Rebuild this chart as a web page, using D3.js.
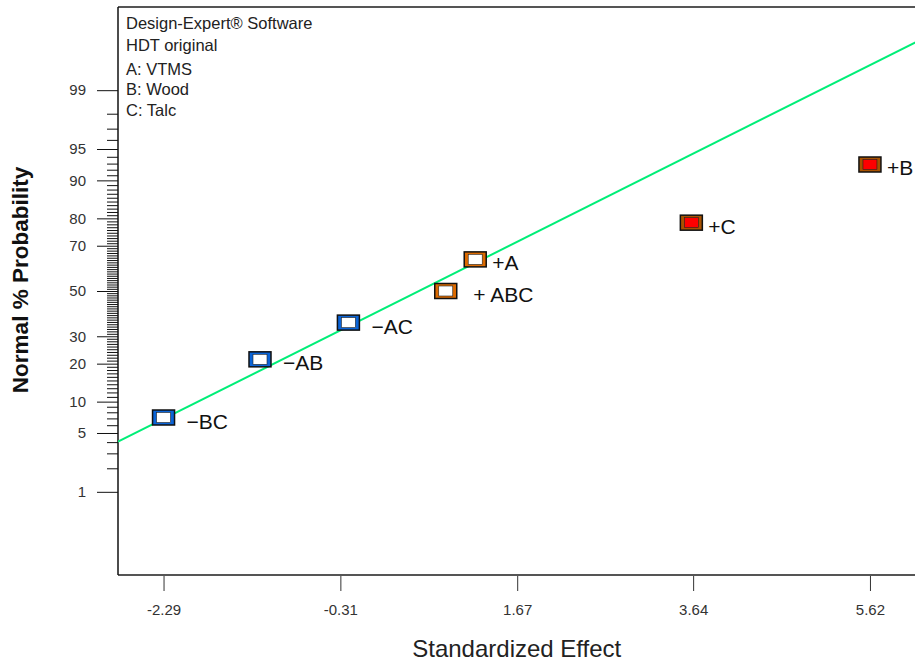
<!DOCTYPE html>
<html lang="en">
<head>
    <meta charset="utf-8">
    <title>Normal Plot - HDT original</title>
    <script src="https://d3js.org/d3.v7.min.js"></script>
    <style type="text/css">
        body {
            margin: 0;
            padding: 0;
            background: #fff;
        }
        svg {
            display: block;
            font-family: 'Liberation Sans', Arial, sans-serif;
        }
        .axis text {
            fill: #333;
        }
        .legend text {
            fill: #222;
            font-size: 16.5px;
        }
        .term-label {
            fill: #111;
            font-size: 21px;
            white-space: pre;
        }
    </style>
</head>

<body>
    <svg></svg>

    <script>
        // Effects
        var terms = ["BC", "AB", "AC", "ABC", "A", "C", "B"];
        var effects = [-2.29, -1.21, -0.22, 0.87, 1.20, 3.62, 5.62];
        var probabilities = [7.14, 21.43, 35.71, 50, 64.29, 78.57, 92.86];
        var significant = [false, false, false, false, false, true, true];
        var labels = ["\u2212BC", "\u2212AB", "\u2212AC", "\u2002+ ABC", "+A", "+C", "+B"];

        // Fitted line through the small effects
        var fitCenter = 0.57;
        var fitSpread = 1.93;

        // Ticks
        var xTicks = [-2.29, -0.31, 1.67, 3.64, 5.62];
        var xTickLabels = ["-2.29", "-0.31", "1.67", "3.64", "5.62"];
        var yTicks = [1, 5, 10, 20, 30, 50, 70, 80, 90, 95, 99];

        var legendLines = ["Design-Expert\u00ae Software", "HDT original", "A: VTMS", "B: Wood", "C: Talc"];

        // Inverse normal (Acklam)
        function probit(p) {
            var a = [-3.969683028665376e+01, 2.209460984245205e+02, -2.759285104469687e+02, 1.383577518672690e+02, -3.066479806614716e+01, 2.506628277459239e+00];
            var b = [-5.447609879822406e+01, 1.615858368580409e+02, -1.556989798598866e+02, 6.680131188771972e+01, -1.328068155288572e+01];
            var c = [-7.784894002430293e-03, -3.223964580411365e-01, -2.400758277161838e+00, -2.549732539343734e+00, 4.374664141464968e+00, 2.938163982698783e+00];
            var d = [7.784695709041462e-03, 3.224671290700398e-01, 2.445134137142996e+00, 3.754408661907416e+00];
            var pl = 0.02425, q, r;
            if (p < pl) {
                q = Math.sqrt(-2 * Math.log(p));
                return (((((c[0] * q + c[1]) * q + c[2]) * q + c[3]) * q + c[4]) * q + c[5]) / ((((d[0] * q + d[1]) * q + d[2]) * q + d[3]) * q + 1);
            }
            if (p > 1 - pl) {
                q = Math.sqrt(-2 * Math.log(1 - p));
                return -(((((c[0] * q + c[1]) * q + c[2]) * q + c[3]) * q + c[4]) * q + c[5]) / ((((d[0] * q + d[1]) * q + d[2]) * q + d[3]) * q + 1);
            }
            q = p - 0.5;
            r = q * q;
            return (((((a[0] * r + a[1]) * r + a[2]) * r + a[3]) * r + a[4]) * r + a[5]) * q / (((((b[0] * r + b[1]) * r + b[2]) * r + b[3]) * r + b[4]) * r + 1);
        }

        var blende = {
                top: 7
                , right: -0.5
                , bottom: 91
                , left: 118
            },
            width = 915 - blende.left - blende.right
            , height = 666 - blende.top - blende.bottom;

        var root = d3.select("svg")
            .attr("width", 915)
            .attr("height", 666);

        var svg = root.append("g")
            .attr("transform", "translate(" + blende.left + "," + blende.top + ")");

        var x = d3.scaleLinear().domain([-2.80, 6.13]).range([0, width]);
        var y = d3.scaleLinear().domain([-3.29, 3.29]).range([height, 0]);

        var datensatz = terms.map(function (t, i) {
            return {
                term: t
                , effect: effects[i]
                , z: probit(probabilities[i] / 100)
                , sig: significant[i]
                , label: labels[i]
            };
        });

        svg.append("clipPath")
            .attr("id", "plotclip")
            .append("rect")
            .attr("width", width)
            .attr("height", height);

        // Minor ticks, every whole percent
        var minor = d3.range(2, 99).filter(function (p) {
            return yTicks.indexOf(p) < 0;
        });
        var yMinor = svg.append("g")
            .attr("class", "y minor")
            .call(d3.axisLeft(y)
                .tickValues(minor.map(function (p) { return probit(p / 100); }))
                .tickSize(11)
                .tickFormat(""));
        yMinor.select(".domain").remove();
        yMinor.selectAll("line").attr("stroke", "#111");

        // Y axis
        var yAxis = svg.append("g")
            .attr("class", "y axis")
            .call(d3.axisLeft(y)
                .tickValues(yTicks.map(function (p) { return probit(p / 100); }))
                .tickSize(21)
                .tickPadding(11)
                .tickFormat(function (d, i) { return yTicks[i]; }));
        yAxis.select(".domain").remove();
        yAxis.selectAll("line").attr("stroke", "#111");
        yAxis.selectAll("text")
            .attr("font-size", 15)
            .attr("font-family", "'Liberation Sans', Arial, sans-serif");

        // X axis
        var xAxis = svg.append("g")
            .attr("class", "x axis")
            .attr("transform", "translate(0," + height + ")")
            .call(d3.axisBottom(x)
                .tickValues(xTicks)
                .tickSize(16)
                .tickPadding(13)
                .tickFormat(function (d, i) { return xTickLabels[i]; }));
        xAxis.select(".domain").remove();
        xAxis.selectAll("line").attr("stroke", "#333");
        xAxis.selectAll("text")
            .attr("font-size", 15)
            .attr("font-family", "'Liberation Sans', Arial, sans-serif");

        // Frame
        svg.append("line")
            .attr("x1", 0).attr("x2", width)
            .attr("y1", 0).attr("y2", 0)
            .attr("stroke", "#555").attr("stroke-width", 2);
        svg.append("line")
            .attr("x1", 0).attr("x2", width)
            .attr("y1", height).attr("y2", height)
            .attr("stroke", "#555").attr("stroke-width", 2);
        svg.append("line")
            .attr("x1", 0).attr("x2", 0)
            .attr("y1", 0).attr("y2", height)
            .attr("stroke", "#111").attr("stroke-width", 1.5);

        // Fit line
        var xd = x.domain();
        svg.append("line")
            .attr("clip-path", "url(#plotclip)")
            .attr("x1", x(xd[0]))
            .attr("y1", y((xd[0] - fitCenter) / fitSpread))
            .attr("x2", x(xd[1]))
            .attr("y2", y((xd[1] - fitCenter) / fitSpread))
            .attr("stroke", "#00ee77")
            .attr("stroke-width", 2);

        // Markers
        var mw = 22, mh = 15;
        var pts = svg.selectAll(".pt")
            .data(datensatz)
            .enter().append("g")
            .attr("class", "pt")
            .attr("transform", function (d) {
                return "translate(" + x(d.effect) + "," + y(d.z) + ")";
            });

        pts.append("rect")
            .attr("x", -mw / 2)
            .attr("y", -mh / 2)
            .attr("width", mw)
            .attr("height", mh)
            .attr("fill", function (d) {
                if (d.sig) return "#a85200";
                return d.effect < 0 ? "#0a64d8" : "#dc6a00";
            })
            .attr("stroke", "#111")
            .attr("stroke-width", 1.5);

        pts.append("rect")
            .attr("x", -mw / 2 + 4)
            .attr("y", -mh / 2 + 2.5)
            .attr("width", mw - 8)
            .attr("height", mh - 5)
            .attr("fill", function (d) {
                return d.sig ? "#ff0000" : "#ffffff";
            })
            .attr("stroke", "#222")
            .attr("stroke-width", 0.6);

        pts.append("text")
            .attr("class", "term-label")
            .attr("x", function (d) {
                return mw / 2 + (d.effect < 0 ? 12 : 6);
            })
            .attr("y", 11)
            .text(function (d) { return d.label; });

        // Legend text
        var legend = svg.append("g")
            .attr("class", "legend")
            .attr("transform", "translate(8,0)");
        var legendY = [22, 44, 68, 88, 109];
        legend.selectAll("text")
            .data(legendLines)
            .enter().append("text")
            .attr("y", function (d, i) { return legendY[i]; })
            .text(function (d) { return d; });

        // Axis titles
        root.append("text")
            .attr("x", blende.left + width / 2)
            .attr("y", 657)
            .attr("text-anchor", "middle")
            .attr("font-size", 24)
            .attr("fill", "#222")
            .text("Standardized Effect");

        root.append("text")
            .attr("transform", "translate(28,280) rotate(-90)")
            .attr("text-anchor", "middle")
            .attr("font-size", 22.5)
            .attr("font-weight", "bold")
            .attr("fill", "#111")
            .text("Normal % Probability");
    </script>

</body>
</html>
